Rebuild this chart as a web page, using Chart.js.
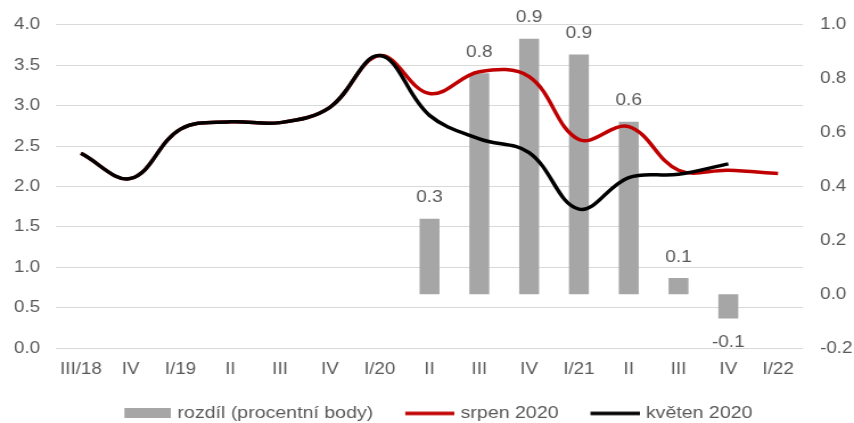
<!DOCTYPE html>
<html>
<head>
<meta charset="utf-8">
<script src="https://cdn.jsdelivr.net/npm/chart.js@4"></script>
<style>
  html, body { margin: 0; padding: 0; background: #fff; overflow: hidden; }
  /* the drawing surface is rendered narrower and widened to the page width */
  #c { display: block; width: 854px; height: 423px; }
</style>
</head>
<body>
<canvas id="c" width="750" height="423" style="width:854px;height:423px"></canvas>
<script>
// Quarters on the horizontal axis
const quarters = ['III/18', 'IV', 'I/19', 'II', 'III', 'IV', 'I/20', 'II', 'III', 'IV', 'I/21', 'II', 'III', 'IV', 'I/22'];

// Difference between the two forecasts (percentage points, right axis)
const rozdil = [null, null, null, null, null, null, null, 0.28, 0.82, 0.949, 0.89, 0.64, 0.06, -0.09, null];

// August 2020 forecast (left axis)
const srpen2020 = [2.41, 2.10, 2.71, 2.80, 2.79, 2.98, 3.62, 3.15, 3.42, 3.36, 2.58, 2.74, 2.20, 2.20, 2.16];

// May 2020 forecast (left axis)
const kveten2020 = [2.41, 2.10, 2.71, 2.80, 2.79, 2.98, 3.62, 2.88, 2.59, 2.42, 1.72, 2.11, 2.15, 2.28, null];

// Axis tick settings
const leftTicks = { min: 0, max: 4, step: 0.5 };
const rightTicks = { min: -0.2, max: 1.0, step: 0.2 };

const FONT = "'Liberation Sans', Arial, sans-serif";
const TEXT = '#595959';
const GREY = '#A6A6A6';
const RED = '#C00000';
const BLACK = '#000000';

const fmt = v => (Math.abs(v) < 1e-9 ? 0 : v).toFixed(1);

// Legend symbols: a sample drawn at the right end of a wider transparent strip
function legendSymbol(kind, color) {
  const c = document.createElement('canvas');
  c.width = 64;
  c.height = 10;
  const g = c.getContext('2d');
  g.fillStyle = color;
  if (kind === 'bar') {
    g.fillRect(23, 0, 41, 10);
  } else {
    g.fillRect(21, 3.25, 43, 3.5);
  }
  return c;
}

// Value labels above (or below) the bars
const barLabels = {
  id: 'barLabels',
  afterDatasetsDraw(chart) {
    const meta = chart.getDatasetMeta(0);
    const ctx = chart.ctx;
    ctx.save();
    ctx.font = '16.8px ' + FONT;
    ctx.fillStyle = TEXT;
    ctx.textAlign = 'center';
    ctx.textBaseline = 'middle';
    meta.data.forEach((bar, i) => {
      const v = rozdil[i];
      if (v === null || v === undefined) return;
      const y = v >= 0 ? bar.y - 21 : bar.y + 24;
      ctx.fillText(fmt(v), bar.x, y);
    });
    ctx.restore();
  }
};

const datasets = [
  {
    type: 'bar',
    label: 'rozdíl (procentní body)',
    data: rozdil,
    yAxisID: 'y2',
    backgroundColor: GREY,
    borderWidth: 0,
    barPercentage: 0.4,
    categoryPercentage: 1.0,
    order: 3
  },
  {
    type: 'line',
    label: 'srpen 2020',
    data: srpen2020,
    yAxisID: 'y',
    borderColor: RED,
    backgroundColor: RED,
    borderWidth: 3.5,
    pointRadius: 0,
    tension: 0.38,
    order: 2
  },
  {
    type: 'line',
    label: 'květen 2020',
    data: kveten2020,
    yAxisID: 'y',
    borderColor: BLACK,
    backgroundColor: BLACK,
    borderWidth: 3.5,
    pointRadius: 0,
    tension: 0.38,
    order: 1
  }
];

new Chart(document.getElementById('c'), {
  data: { labels: quarters, datasets },
  options: {
    responsive: false,
    maintainAspectRatio: false,
    animation: false,
    devicePixelRatio: 1,
    layout: { padding: { left: 0, right: 0, top: 24, bottom: -9 } },
    plugins: {
      tooltip: { enabled: false },
      legend: {
        position: 'bottom',
        labels: {
          font: { family: FONT, size: 17.2 },
          color: TEXT,
          usePointStyle: true,
          pointStyleWidth: 58.1,
          boxHeight: 10,
          padding: 10,
          sort: (a, b) => a.datasetIndex - b.datasetIndex,
          generateLabels(chart) {
            return chart.data.datasets.map((ds, i) => ({
              text: ds.label,
              datasetIndex: i,
              fillStyle: ds.backgroundColor,
              strokeStyle: ds.backgroundColor,
              lineWidth: 0,
              pointStyle: legendSymbol(ds.type, ds.type === 'bar' ? ds.backgroundColor : ds.borderColor),
              fontColor: TEXT,
              hidden: false
            }));
          }
        }
      }
    },
    scales: {
      x: {
        grid: { display: false, drawTicks: false },
        border: { display: false },
        ticks: { font: { family: FONT, size: 16.5 }, color: TEXT, padding: 12, maxRotation: 0, autoSkip: false },
        afterFit(scale) { scale.height = 46.8; }
      },
      y: {
        position: 'left',
        min: leftTicks.min,
        max: leftTicks.max,
        grid: { color: '#D9D9D9', lineWidth: 1, drawTicks: false },
        border: { display: false },
        ticks: {
          stepSize: leftTicks.step,
          font: { family: FONT, size: 16.5 },
          color: TEXT,
          padding: 14,
          callback: fmt
        },
        afterFit(scale) { scale.width = 49.2; }
      },
      y2: {
        position: 'right',
        min: rightTicks.min,
        max: rightTicks.max,
        grid: { display: false, drawTicks: false },
        border: { display: false },
        ticks: {
          stepSize: rightTicks.step,
          font: { family: FONT, size: 16.5 },
          color: TEXT,
          padding: 15,
          callback: fmt
        },
        afterFit(scale) { scale.width = 44.8; }
      }
    }
  },
  plugins: [barLabels]
});
</script>
</body>
</html>
